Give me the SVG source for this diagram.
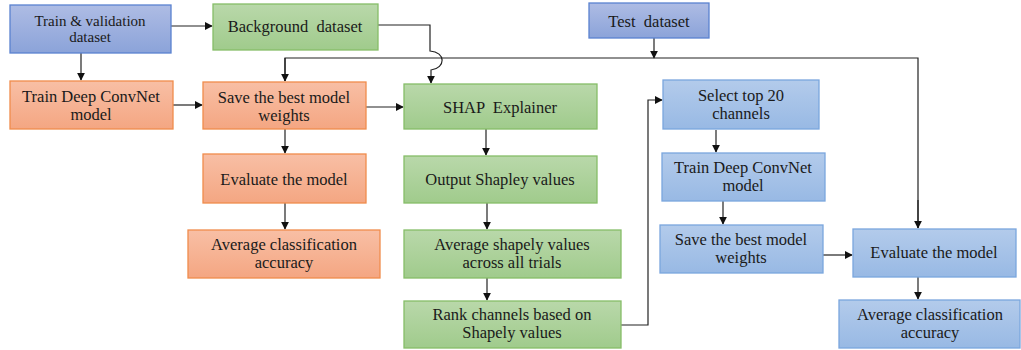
<svg xmlns="http://www.w3.org/2000/svg" width="1021" height="350" viewBox="0 0 1021 350">
  <defs>
    <linearGradient id="gBlueDark" x1="0" y1="0" x2="0" y2="1">
      <stop offset="0" stop-color="#aebce4"/>
      <stop offset="1" stop-color="#8ba3d9"/>
    </linearGradient>
    <linearGradient id="gBlueLight" x1="0" y1="0" x2="0" y2="1">
      <stop offset="0" stop-color="#b3cbeb"/>
      <stop offset="1" stop-color="#98b9e4"/>
    </linearGradient>
    <linearGradient id="gGreen" x1="0" y1="0" x2="0" y2="1">
      <stop offset="0" stop-color="#b9d8aa"/>
      <stop offset="1" stop-color="#a0cb8c"/>
    </linearGradient>
    <linearGradient id="gOrange" x1="0" y1="0" x2="0" y2="1">
      <stop offset="0" stop-color="#f8bfa5"/>
      <stop offset="1" stop-color="#f4a682"/>
    </linearGradient>
    <marker id="arrow" viewBox="0 0 10 10" refX="9" refY="5" markerWidth="8" markerHeight="8" markerUnits="userSpaceOnUse" orient="auto">
      <path d="M0,0 L10,5 L0,10 z" fill="#111"/>
    </marker>
  </defs>
  <style>
    .box { stroke-width: 1.3; }
    .bd { fill: url(#gBlueDark); stroke: #5a82d0; }
    .bl { fill: url(#gBlueLight); stroke: #7aa6dd; }
    .gr { fill: url(#gGreen); stroke: #86bd68; }
    .or { fill: url(#gOrange); stroke: #f08c4c; }
    text { font-family: "Liberation Serif", "Times New Roman", serif; font-size: 16.5px; fill: #1a1a1a; text-anchor: middle; white-space: pre; }
    text.sm { font-size: 15px; }
    .conn path, .conn line { fill: none; stroke: #222; stroke-width: 1.2; }
  </style>

  <!-- connectors -->
  <g class="conn">
    <line x1="171" y1="26" x2="212" y2="26" marker-end="url(#arrow)"/>
    <line x1="81" y1="53" x2="81" y2="80" marker-end="url(#arrow)"/>
    <line x1="173" y1="105" x2="202" y2="105" marker-end="url(#arrow)"/>
    <line x1="366" y1="107" x2="403" y2="107" marker-end="url(#arrow)"/>
    <path d="M378,25 H430 V51 C446,52 446,68 431,70 V83" marker-end="url(#arrow)"/>
    <line x1="654" y1="38" x2="654" y2="58" marker-end="url(#arrow)"/>
    <path d="M285,81 V58 H918 V228" />
    <line x1="285" y1="58" x2="285" y2="81" marker-end="url(#arrow)"/>
    <line x1="918" y1="200" x2="918" y2="228" marker-end="url(#arrow)"/>
    <line x1="285" y1="129" x2="285" y2="153" marker-end="url(#arrow)"/>
    <line x1="285" y1="203" x2="285" y2="229" marker-end="url(#arrow)"/>
    <line x1="486" y1="129" x2="486" y2="155" marker-end="url(#arrow)"/>
    <line x1="487" y1="203" x2="487" y2="229" marker-end="url(#arrow)"/>
    <line x1="487" y1="278" x2="487" y2="300" marker-end="url(#arrow)"/>
    <path d="M621,325 H648 V100 H662" marker-end="url(#arrow)"/>
    <line x1="716" y1="130" x2="716" y2="152" marker-end="url(#arrow)"/>
    <line x1="723" y1="201" x2="723" y2="224" marker-end="url(#arrow)"/>
    <line x1="823" y1="255" x2="852" y2="255" marker-end="url(#arrow)"/>
    <line x1="918" y1="277" x2="918" y2="299" marker-end="url(#arrow)"/>
  </g>

  <!-- nodes -->
  <g id="train-val-dataset">
    <rect class="box bd" x="10" y="5" width="161" height="48"/>
    <text class="sm" x="90" y="26">Train &amp; validation</text>
    <text class="sm" x="90" y="42">dataset</text>
  </g>
  <g id="background-dataset">
    <rect class="box gr" x="213" y="4" width="165" height="46"/>
    <text x="295" y="32">Background  dataset</text>
  </g>
  <g id="test-dataset">
    <rect class="box bd" x="589" y="3" width="120" height="35"/>
    <text x="649" y="27">Test  dataset</text>
  </g>
  <g id="train-convnet-1">
    <rect class="box or" x="10" y="81" width="163" height="48"/>
    <text x="91" y="102">Train Deep ConvNet</text>
    <text x="91" y="120">model</text>
  </g>
  <g id="save-weights-1">
    <rect class="box or" x="203" y="82" width="163" height="47"/>
    <text x="284" y="103">Save the best model</text>
    <text x="284" y="121">weights</text>
  </g>
  <g id="shap-explainer">
    <rect class="box gr" x="404" y="84" width="193" height="45"/>
    <text x="500" y="113">SHAP  Explainer</text>
  </g>
  <g id="evaluate-1">
    <rect class="box or" x="203" y="154" width="163" height="49"/>
    <text x="284" y="185">Evaluate the model</text>
  </g>
  <g id="accuracy-1">
    <rect class="box or" x="188" y="230" width="192" height="48"/>
    <text x="284" y="250">Average classification</text>
    <text x="284" y="268">accuracy</text>
  </g>
  <g id="output-shapley">
    <rect class="box gr" x="404" y="156" width="193" height="47"/>
    <text x="500" y="185">Output Shapley values</text>
  </g>
  <g id="average-shapely">
    <rect class="box gr" x="404" y="230" width="217" height="48"/>
    <text x="512" y="250">Average shapely values</text>
    <text x="512" y="268">across all trials</text>
  </g>
  <g id="rank-channels">
    <rect class="box gr" x="404" y="301" width="217" height="47"/>
    <text x="512" y="320">Rank channels based on</text>
    <text x="512" y="338">Shapely values</text>
  </g>
  <g id="select-top-20">
    <rect class="box bl" x="663" y="80" width="156" height="49"/>
    <text x="741" y="101">Select top 20</text>
    <text x="741" y="119">channels</text>
  </g>
  <g id="train-convnet-2">
    <rect class="box bl" x="662" y="153" width="163" height="48"/>
    <text x="743" y="173">Train Deep ConvNet</text>
    <text x="743" y="191">model</text>
  </g>
  <g id="save-weights-2">
    <rect class="box bl" x="660" y="225" width="163" height="48"/>
    <text x="741" y="245">Save the best model</text>
    <text x="741" y="263">weights</text>
  </g>
  <g id="evaluate-2">
    <rect class="box bl" x="853" y="229" width="163" height="48"/>
    <text x="934" y="258">Evaluate the model</text>
  </g>
  <g id="accuracy-2">
    <rect class="box bl" x="839" y="300" width="181" height="48"/>
    <text x="930" y="320">Average classification</text>
    <text x="930" y="338">accuracy</text>
  </g>
</svg>
